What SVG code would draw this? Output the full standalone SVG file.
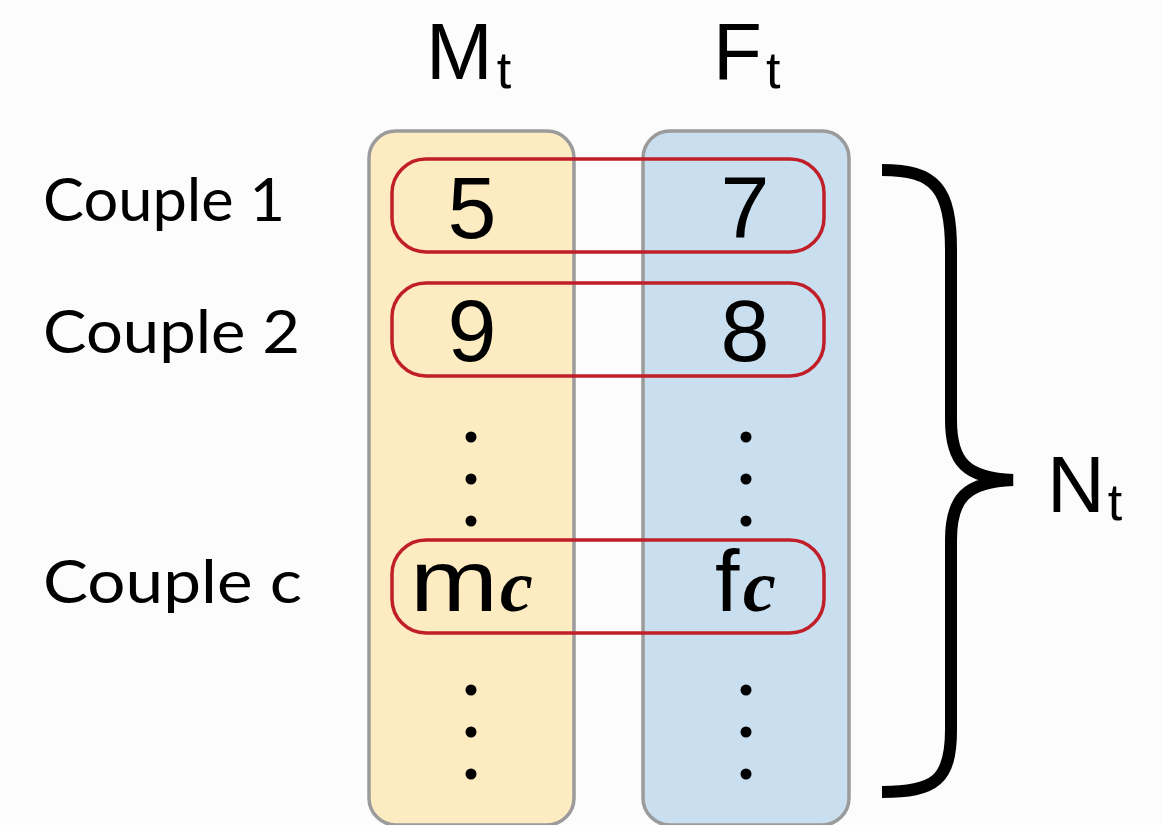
<svg xmlns="http://www.w3.org/2000/svg" width="1161" height="825" viewBox="0 0 1161 825">
<style>
.col{stroke:#9b9b9b;stroke-width:3.5}
.pair{fill:none;stroke:#c01f2a;stroke-width:3.5}
.lbl{font-family:"Lato","Liberation Sans",sans-serif;font-size:60px;fill:#000}
.num{font-family:"Liberation Sans",Arial,sans-serif;font-size:88px;fill:#000}
.hdr{font-family:"Liberation Sans",Arial,sans-serif;font-size:80px;fill:#000}
.sub{font-size:52px}
.mc{font-family:"Liberation Serif","Times New Roman",serif;font-style:italic;font-weight:bold;font-size:74px;fill:#000}
.dot{fill:#000}
</style>
<rect width="1161" height="825" fill="#fcfcfc"/>
<g id="col-m"><rect class="col" x="369" y="131" width="205" height="694" rx="27" fill="#fdebc1"/></g>
<g id="col-f"><rect class="col" x="643" y="131" width="206" height="694" rx="27" fill="#c9dfef"/></g>
<g id="headers">
<text class="hdr" x="426" y="79">M<tspan class="sub" dy="9" dx="4">t</tspan></text>
<text class="hdr" x="713" y="79">F<tspan class="sub" dy="9" dx="4">t</tspan></text>
</g>
<g id="labels">
<text class="lbl" x="43" y="221" textLength="242" lengthAdjust="spacingAndGlyphs">Couple 1</text>
<text class="lbl" x="43" y="353" textLength="257" lengthAdjust="spacingAndGlyphs">Couple 2</text>
<text class="lbl" x="43" y="603" textLength="259" lengthAdjust="spacingAndGlyphs">Couple c</text>
</g>
<g id="couple1">
<rect class="pair" x="392" y="159" width="432" height="93" rx="34"/>
<text class="num" x="472" y="238" text-anchor="middle">5</text>
<text class="num" x="745" y="238" text-anchor="middle">7</text>
</g>
<g id="couple2">
<rect class="pair" x="392" y="283" width="432" height="93" rx="34"/>
<text class="num" x="472" y="361" text-anchor="middle">9</text>
<text class="num" x="745" y="361" text-anchor="middle">8</text>
</g>
<g id="couplec">
<rect class="pair" x="392" y="540" width="432" height="93" rx="34"/>
<text class="num" x="410" y="611" font-size="94" textLength="88" lengthAdjust="spacingAndGlyphs">m</text>
<text class="mc" x="500" y="611">c</text>
<text class="num" x="715" y="611" font-size="94">f</text>
<text class="mc" x="743" y="611">c</text>
</g>
<g id="dots">
<circle class="dot" cx="471" cy="437" r="5.5"/><circle class="dot" cx="471" cy="479" r="5.5"/><circle class="dot" cx="471" cy="521" r="5.5"/>
<circle class="dot" cx="746" cy="437" r="5.5"/><circle class="dot" cx="746" cy="479" r="5.5"/><circle class="dot" cx="746" cy="521" r="5.5"/>
<circle class="dot" cx="471" cy="690" r="5.5"/><circle class="dot" cx="471" cy="732" r="5.5"/><circle class="dot" cx="471" cy="774" r="5.5"/>
<circle class="dot" cx="746" cy="690" r="5.5"/><circle class="dot" cx="746" cy="732" r="5.5"/><circle class="dot" cx="746" cy="774" r="5.5"/>
</g>
<g id="brace">
<path d="M882 170 C935 170 951 188 951 250 L951 420 C951 462 966 478 1013 480 C966 482 951 498 951 540 L951 730 C951 780 935 792 882 792" fill="none" stroke="#000" stroke-width="12"/>
<text class="hdr" x="1047" y="512">N<tspan class="sub" dy="8" dx="3">t</tspan></text>
</g>
</svg>
